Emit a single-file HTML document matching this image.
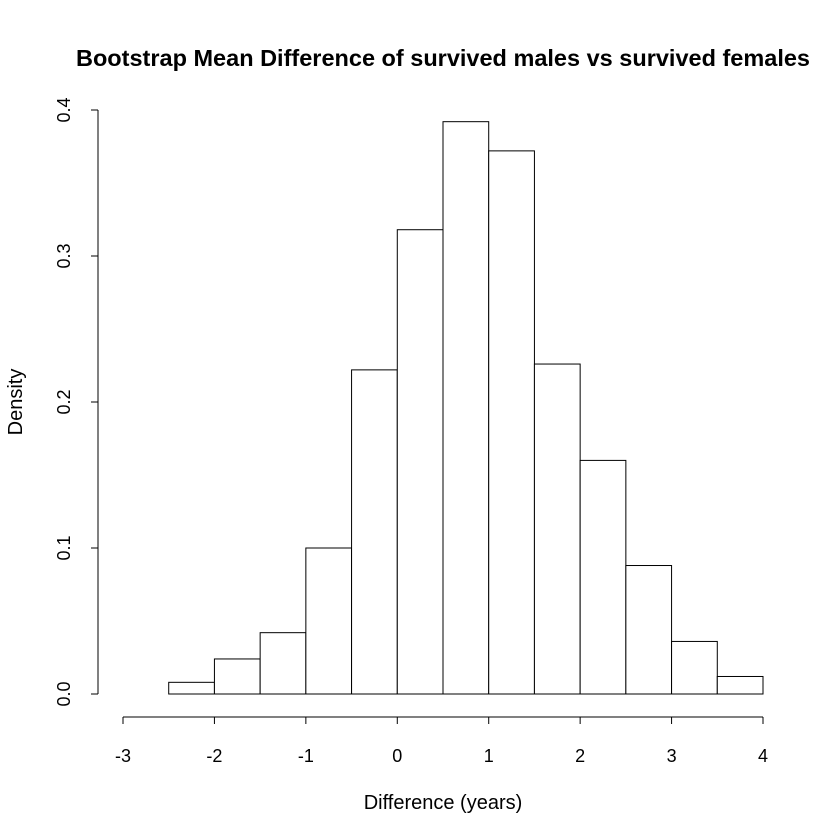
<!DOCTYPE html>
<html><head><meta charset="utf-8"><style>
html,body{margin:0;padding:0;background:#fff}
svg{display:block;font-family:"Liberation Sans",Arial,sans-serif}
</style></head><body>
<svg id="chart" width="840" height="840" viewBox="0 0 840 840">
<rect width="840" height="840" fill="#fff"/>
<text x="443" y="66" text-anchor="middle" font-size="23.5" font-weight="bold">Bootstrap Mean Difference of survived males vs survived females</text>
<text x="443" y="809" text-anchor="middle" font-size="20">Difference (years)</text>
<text transform="translate(22,402) rotate(-90)" text-anchor="middle" font-size="20">Density</text>
<g id="bars"></g><g id="xaxis"></g><g id="yaxis"></g>
</svg>
<script>
const binStarts = [-2.5,-2,-1.5,-1,-0.5,0,0.5,1,1.5,2,2.5,3,3.5];
const densities = [0.008,0.024,0.042,0.100,0.222,0.318,0.392,0.372,0.226,0.160,0.088,0.036,0.012];
const xTicks = [-3,-2,-1,0,1,2,3,4];
const yTicks = [0,0.1,0.2,0.3,0.4];
const binWidth = 0.5;
const NS = "http://www.w3.org/2000/svg";
function xs(v){return 123 + (v + 3) * (640 / 7);}
function ys(v){return 694 - v * 1460;}
function mk(tag, attrs, parent){const e=document.createElementNS(NS,tag);for(const k in attrs)e.setAttribute(k,attrs[k]);parent.appendChild(e);return e;}
const bars=document.getElementById('bars');
binStarts.forEach((s,i)=>{
  const r=mk('rect',{x:xs(s),y:ys(densities[i]),width:xs(s+binWidth)-xs(s),height:ys(0)-ys(densities[i]),fill:'#fff',stroke:'#000','stroke-width':1},bars);
  
  
});
const xa=document.getElementById('xaxis');
const xl=mk('line',{x1:xs(xTicks[0]),x2:xs(xTicks[xTicks.length-1]),y1:717,y2:717,stroke:'#000'},xa);


xTicks.forEach(t=>{
  const tk=mk('line',{x1:xs(t),x2:xs(t),y1:717,y2:724,stroke:'#000'},xa);
  
  
  const lb=mk('text',{x:xs(t),y:762,'text-anchor':'middle','font-size':18},xa);
  lb.textContent=String(t);
  
  
});
const ya=document.getElementById('yaxis');
const yl=mk('line',{x1:98,x2:98,y1:ys(yTicks[0]),y2:ys(yTicks[yTicks.length-1]),stroke:'#000'},ya);


yTicks.forEach(t=>{
  const tk=mk('line',{x1:91,x2:98,y1:ys(t),y2:ys(t),stroke:'#000'},ya);
  
  
  const lb=mk('text',{transform:'translate(70,'+ys(t)+') rotate(-90)','text-anchor':'middle','font-size':18},ya);
  lb.textContent=t.toFixed(1);
  
  
});
</script>
</body></html>
